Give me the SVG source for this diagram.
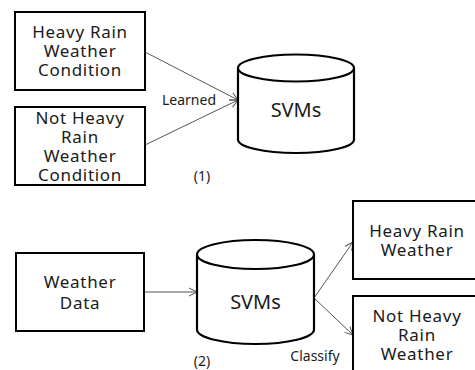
<svg xmlns="http://www.w3.org/2000/svg" width="475" height="370" viewBox="0 0 475 370">
<defs>
<marker id="ah" markerWidth="10" markerHeight="10" refX="9" refY="5" orient="auto" markerUnits="userSpaceOnUse">
<path d="M1,1 L9,5 L1,9" fill="none" stroke="#555" stroke-width="1"/>
</marker>
<style>
.box{fill:#fff;stroke:#000;stroke-width:2}
.cyl{fill:#fff;stroke:#000;stroke-width:2.2}
.t{font-family:"Noto Sans","DejaVu Sans",sans-serif;font-size:17px;letter-spacing:0.7px;fill:#1a1a1a;text-anchor:middle}
.s{font-family:"Noto Sans","DejaVu Sans",sans-serif;font-size:20px;fill:#1a1a1a;text-anchor:middle}
.l{font-family:"Noto Sans","DejaVu Sans",sans-serif;font-size:14px;fill:#1a1a1a;text-anchor:middle}
.c{fill:none;stroke:#555;stroke-width:1;marker-end:url(#ah)}
</style>
</defs>
<rect width="475" height="370" fill="#fff"/>
<g id="connectors">
<line class="c" x1="145" y1="52" x2="238" y2="100"/>
<line class="c" x1="145" y1="145" x2="238" y2="100"/>
<line class="c" x1="145" y1="292" x2="197" y2="292"/>
<line class="c" x1="314" y1="298" x2="353" y2="242"/>
<line class="c" x1="314" y1="298" x2="353" y2="335"/>
<text class="l" x="189" y="105">Learned</text>
<text class="l" x="315" y="361">Classify</text>
</g>
<g id="heavy-rain-condition">
<rect class="box" x="15" y="12" width="130" height="78"/>
<text class="t" x="80" y="38">Heavy Rain</text>
<text class="t" x="80" y="57">Weather</text>
<text class="t" x="80" y="76">Condition</text>
</g>
<g id="not-heavy-rain-condition">
<rect class="box" x="15" y="107" width="130" height="78"/>
<text class="t" x="80" y="124">Not Heavy</text>
<text class="t" x="80" y="143">Rain</text>
<text class="t" x="80" y="162">Weather</text>
<text class="t" x="80" y="181">Condition</text>
</g>
<g id="svms-1">
<path class="cyl" d="M238,68 L238,139.5 A58,13.5 0 0 0 354,139.5 L354,68 A58,13.5 0 0 0 238,68 A58,13.5 0 0 0 354,68"/>
<text class="s" x="296" y="117">SVMs</text>
</g>
<text class="l" x="202" y="181">(1)</text>
<g id="weather-data">
<rect class="box" x="16" y="253" width="128" height="78"/>
<text class="t" x="80" y="288">Weather</text>
<text class="t" x="80" y="309">Data</text>
</g>
<g id="svms-2">
<path class="cyl" d="M197,254.5 L197,329.5 A58.5,14.5 0 0 0 314,329.5 L314,254.5 A58.5,14.5 0 0 0 197,254.5 A58.5,14.5 0 0 0 314,254.5"/>
<text class="s" x="255.5" y="309">SVMs</text>
</g>
<text class="l" x="202" y="366">(2)</text>
<g id="heavy-rain-weather">
<rect class="box" x="353" y="201" width="130" height="78"/>
<text class="t" x="417" y="237">Heavy Rain</text>
<text class="t" x="417" y="256">Weather</text>
</g>
<g id="not-heavy-rain-weather">
<rect class="box" x="353" y="296" width="130" height="90"/>
<text class="t" x="417" y="322">Not Heavy</text>
<text class="t" x="417" y="341">Rain</text>
<text class="t" x="417" y="360">Weather</text>
</g>
</svg>
